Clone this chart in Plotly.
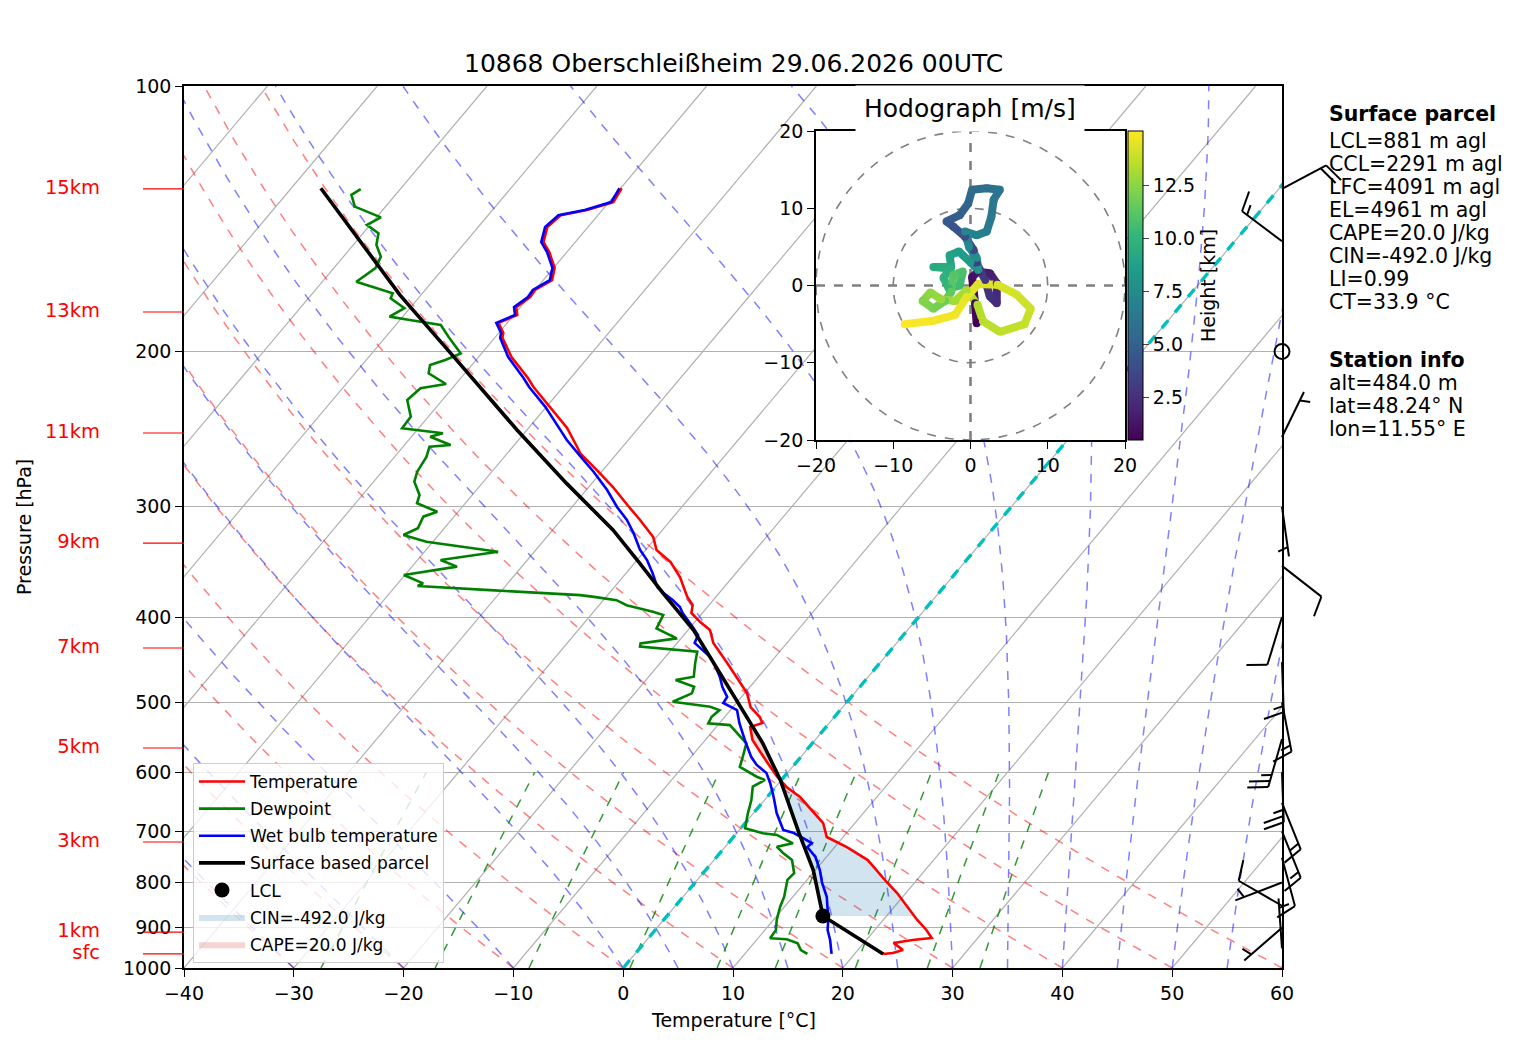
import numpy as np
import plotly.graph_objects as go
from plotly.colors import sample_colorscale

# figure / plot box in pixels
W, H = 1517, 1054
L_PX, R_PX, T_PX, B_PX = 184, 1282, 86, 968
X_MIN, X_MAX = -40, 60
SKEW = 67.6  # degC shift per decade of pressure
PX_DEG = (R_PX - L_PX) / (X_MAX - X_MIN)
PX_DEC = B_PX - T_PX

# ---------------- sounding data ----------------
p_temp = [130.6, 135.4, 138.2, 140.1, 144.5, 150.3, 154.3, 160.8, 166.0, 170.3,
          173.5, 178.1, 181.8, 183.2, 185.6, 190.5, 193.0, 202.9, 214.3, 219.4,
          231.1, 244.2, 257.3, 260.7, 274.6, 284.9, 298.6, 310.5, 324.6, 335.8,
          346.5, 360.3, 379.6, 387.6, 395.8, 405.3, 413.8, 428.1, 451.1, 475.3,
          487.8, 506.0, 519.3, 527.5, 533.1, 551.4, 569.0, 584.0, 607.3, 623.4,
          640.0, 658.6, 684.9, 710.4, 729.2, 754.4, 798.9, 822.2, 852.8, 882.2,
          905.5, 924.7, 929.5, 934.3, 936.6, 954.1, 961.6, 964.0]
t_temp = [-59.9, -59.6, -61.4, -63.4, -63.7, -62.9, -61.6, -59.9, -59.2, -60.0,
          -59.9, -60.4, -59.7, -60.1, -60.8, -59.6, -59.3, -57.0, -53.9, -52.7,
          -49.7, -46.5, -44.0, -43.4, -40.1, -37.8, -35.1, -32.8, -30.3, -29.0,
          -26.8, -24.8, -22.6, -21.5, -21.0, -19.5, -18.0, -16.7, -13.9, -11.2,
          -9.8, -8.4, -6.8, -6.1, -6.9, -5.7, -4.1, -2.7, -0.6, 1.0,
          3.0, 4.7, 7.1, 8.5, 11.1, 14.0, 17.4, 19.2, 21.2, 23.1,
          24.7, 25.8, 24.2, 23.0, 22.7, 24.1, 23.4, 22.6]

p_dew = [130.9, 132.9, 137.0, 140.9, 143.7, 146.9, 151.4, 156.1, 160.9, 166.7,
         171.8, 174.1, 178.6, 182.6, 184.2, 186.6, 192.4, 201.0, 204.5, 207.2,
         211.7, 217.7, 220.1, 227.0, 237.1, 244.4, 247.6, 249.8, 255.3, 256.4,
         263.3, 273.7, 280.9, 290.9, 297.2, 303.9, 307.8, 317.3, 322.9, 328.6,
         337.3, 344.7, 350.7, 358.4, 366.4, 368.9, 372.9, 377.8, 379.5, 382.8,
         387.8, 394.5, 398.0, 412.0, 422.9, 428.5, 432.2, 437.9, 451.4, 467.4,
         471.5, 479.8, 488.2, 499.0, 505.5, 510.0, 519.0, 528.0, 530.4, 541.9,
         556.3, 576.1, 591.4, 606.9, 612.1, 622.8, 645.0, 667.8, 694.5, 703.6,
         706.6, 722.1, 728.6, 741.3, 754.4, 780.7, 794.4, 830.2, 852.2, 882.2,
         905.5, 925.4, 927.8, 937.6, 954.1, 964.0]
t_dew = [-83.6, -84.0, -82.8, -79.6, -80.3, -78.6, -77.9, -76.6, -76.2, -76.9,
         -72.7, -72.5, -70.5, -71.2, -69.1, -65.9, -64.3, -61.9, -62.8, -63.8,
         -63.3, -60.9, -62.9, -63.2, -61.6, -61.5, -57.4, -58.3, -55.8, -57.6,
         -57.1, -56.8, -56.3, -54.8, -54.4, -51.9, -52.8, -52.4, -53.2, -50.6,
         -43.3, -47.9, -45.9, -50.1, -47.7, -48.0, -41.1, -32.5, -31.1, -28.8,
         -27.5, -24.6, -23.4, -23.0, -20.4, -23.3, -23.1, -17.5, -16.8, -15.9,
         -17.3, -15.1, -14.8, -15.9, -12.1, -11.0, -11.2, -11.0, -8.9, -7.6,
         -6.0, -5.3, -4.8, -2.5, -1.5, -2.1, -1.2, -0.5, 0.4, 2.4,
         3.8, 5.9, 4.7, 5.8, 7.1, 8.3, 8.2, 9.2, 9.6, 10.3,
         11.0, 11.1, 12.7, 14.0, 14.8, 15.7]

p_wet = [130.6, 135.4, 138.2, 140.1, 144.5, 150.3, 154.3, 160.8, 166.0, 170.3,
         173.5, 178.1, 181.8, 183.2, 185.6, 190.5, 193.0, 202.9, 214.3, 219.4,
         231.1, 246.7, 252.0, 262.1, 273.9, 287.1, 300.1, 310.5, 321.2, 335.8,
         344.7, 356.6, 369.8, 375.6, 382.6, 389.7, 395.8, 410.6, 419.3, 428.1,
         436.0, 444.0, 459.3, 467.8, 480.2, 492.9, 500.6, 510.0, 527.5, 551.4,
         576.6, 588.6, 601.0, 616.9, 640.0, 667.3, 697.5, 703.0, 721.6, 729.2,
         748.4, 774.3, 801.0, 830.8, 882.2, 905.5, 929.5, 964.0]
t_wet = [-60.1, -59.8, -61.6, -63.6, -63.9, -63.1, -61.8, -60.1, -59.4, -60.2,
         -60.1, -60.6, -59.9, -60.3, -61.0, -59.8, -59.5, -57.3, -54.3, -53.1,
         -50.1, -46.7, -45.6, -43.3, -40.7, -38.1, -35.9, -34.0, -32.4, -30.5,
         -29.1, -27.6, -26.1, -25.1, -23.7, -22.5, -21.8, -19.8, -18.7, -18.4,
         -17.1, -15.9, -14.3, -13.5, -12.5, -11.3, -11.2, -9.4, -8.2, -6.4,
         -4.5, -3.4, -1.9, -0.8, 0.6, 2.1, 4.0, 5.2, 7.6, 7.5,
         9.0, 10.4, 11.6, 13.1, 15.0, 15.7, 16.7, 17.9]

p_parcel = [130.6, 146.3, 172.6, 202.7, 245.5, 282.2, 318.7, 347.7, 375.9, 413.8,
            451.4, 519.0, 556.3, 612.1, 703.6, 774.3, 873.0, 964.0]
t_parcel = [-87.3, -81.0, -71.9, -62.3, -50.9, -42.3, -34.5, -29.5, -25.1, -19.5,
            -15.1, -8.0, -4.5, -0.1, 5.7, 9.8, 14.2, 22.6]

p_lcl, t_lcl = 873.0, 14.2

km_labels = ["15km", "13km", "11km", "9km", "7km", "5km", "3km", "1km", "sfc"]
km_p = [130.8, 180.4, 247.4, 329.8, 433.7, 563.1, 719.7, 910.4, 964.0]

# wind barbs (direction deg, speed)
barb_p = [130.8, 150, 200, 250, 300, 350, 400, 450, 500, 550, 600, 650, 700, 750, 800, 850, 900, 950]
barb_dir = [62, 307, 0, 26, 172, 128, 197, 178, 169, 196, 178, 158, 158, 165, 249, 300, 229, 356]
barb_spd = [20, 15, 0, 5, 5, 10, 10, 15, 15, 25, 25, 15, 15, 10, 5, 10, 5, 5]

# hodograph
hodo_h = [0.48, 0.8, 1.1, 1.4, 1.7, 2.0, 2.3, 2.6, 2.9, 3.2, 3.6, 4.0, 4.3, 4.6, 4.9,
          5.2, 5.5, 5.8, 6.0, 6.2, 6.4, 6.7, 6.9, 7.1, 7.4, 7.7, 8.0, 8.3, 8.6, 8.9,
          9.1, 9.3, 9.6, 9.9, 10.2, 10.5, 10.8, 11.1, 11.4, 11.7, 12.0, 12.3, 12.6,
          12.8, 13.0, 13.2, 13.35, 13.5, 13.65, 13.8, 13.95, 14.1, 14.25, 14.4,
          14.55, 14.7, 14.85, 15.05]
hodo_u = [0.8, 0.6, 0.2, 1.0, 2.5, 3.4, 3.4, 2.5, 1.9, 0.8, 0.4, -0.7, -2.2, -3.1, -1.4,
          -0.3, 0.2, 2.1, 3.8, 3.0, 2.7, 2.1, 0.8, -0.7, -0.2, 0.8, 1.0, 0.0, -1.5, -2.7,
          -2.5, -4.8, -2.6, -3.5, -2.8, -1.4, -1.0, -2.2, -2.5, -3.3, -4.8, -6.2, -5.2,
          -3.8, -2.0, -0.5, 0.9, 1.6, 3.8, 7.0, 7.8, 6.0, 3.5, 1.0,
          -0.5, -2.0, -5.0, -8.5]
hodo_v = [-4.9, -2.3, 1.1, 1.8, 1.6, 0.3, -2.3, -1.4, 0.7, 2.9, 4.6, 6.3, 7.6, 8.3, 9.1,
          10.6, 12.4, 12.6, 12.4, 11.1, 8.9, 7.0, 6.5, 7.0, 5.0, 3.6, 2.0, 3.0, 4.4, 3.9,
          2.4, 2.4, 2.2, 1.0, -0.4, 0.0, 1.8, 1.4, -0.8, -2.0, -3.0, -2.0, -0.9,
          -1.8, -2.0, -0.6, -2.5, -4.6, -6.0, -5.0, -3.0, -1.2, 0.1, 0.2,
          -1.5, -3.8, -4.6, -5.0]

surface_text = ["LCL=881 m agl", "CCL=2291 m agl", "LFC=4091 m agl", "EL=4961 m agl",
                "CAPE=20.0 J/kg", "CIN=-492.0 J/kg", "LI=0.99", "CT=33.9 °C"]
station_text = ["alt=484.0 m", "lat=48.24° N", "lon=11.55° E"]

FONT = "DejaVu Sans"


def skew(t, p):
    return np.asarray(t, float) + SKEW * np.log10(1000.0 / np.asarray(p, float))


def moist_lapse(t0, pres):
    rd, cp, lv, eps = 287.04, 1005.7, 2.501e6, 0.622

    def es(tk):
        return 6.112 * np.exp(17.67 * (tk - 273.15) / (tk - 29.65))

    def dtdp(p, tk):
        rs = eps * es(tk) / (p - es(tk))
        return (rd * tk + lv * rs) / (p * (cp + lv * lv * rs * eps / (rd * tk * tk)))

    tk = t0 + 273.15
    out = [tk]
    for a, b in zip(pres[:-1], pres[1:]):
        h = b - a
        k1 = dtdp(a, tk)
        k2 = dtdp(a + h / 2, tk + h / 2 * k1)
        k3 = dtdp(a + h / 2, tk + h / 2 * k2)
        k4 = dtdp(b, tk + h * k3)
        tk = tk + h / 6 * (k1 + 2 * k2 + 2 * k3 + k4)
        out.append(tk)
    return np.array(out) - 273.15


fig = go.Figure()


def add_lines(xs, ys, color, width, dash=None, axes=("x", "y")):
    fig.add_trace(go.Scatter(x=xs, y=ys, mode="lines", showlegend=False, hoverinfo="skip",
                             line=dict(color=color, width=width, dash=dash),
                             xaxis=axes[0], yaxis=axes[1]))


# isotherms
xs, ys = [], []
for t in range(-120, 61, 10):
    xs += list(skew([t, t], [1000, 100])) + [None]
    ys += [1000, 100, None]
add_lines(xs, ys, "rgb(176,176,176)", 1.2)

# dry adiabats
pp = np.linspace(1000, 100, 60)
xs, ys = [], []
for t0 in range(X_MIN, X_MAX + 1, 10):
    tt = (t0 + 273.15) * (pp / 1000.0) ** 0.2857 - 273.15
    xs += list(skew(tt, pp)) + [None]
    ys += list(pp) + [None]
add_lines(xs, ys, "rgba(255,0,0,0.5)", 1.5, "dash")

# moist adiabats
pm = np.linspace(1000, 100, 181)
xs, ys = [], []
for t0 in list(range(X_MIN, 0, 10)) + list(range(0, X_MAX + 1, 5)):
    tt = moist_lapse(t0, pm)
    xs += list(skew(tt, pm)) + [None]
    ys += list(pm) + [None]
add_lines(xs, ys, "rgba(0,0,255,0.5)", 1.5, "dash")

# mixing ratio lines
pw = np.linspace(1000, 600, 20)
xs, ys = [], []
for w in [0.0004, 0.001, 0.002, 0.004, 0.007, 0.01, 0.016, 0.024, 0.032]:
    e = pw * w / (0.622 + w)
    lg = np.log(e / 6.112)
    td = 243.5 * lg / (17.67 - lg)
    xs += list(skew(td, pw)) + [None]
    ys += list(pw) + [None]
add_lines(xs, ys, "rgba(0,128,0,0.8)", 1.5, "dash")

# 0 degC isotherm
add_lines(skew([0, 0], [1000, 100]), [1000, 100], "rgb(0,191,191)", 3.4, "dash")

# CIN / CAPE shading from parcel vs environment
pg = np.geomspace(p_lcl, 300, 800)
tp_g = np.interp(np.log(pg), np.log(p_parcel), t_parcel)
te_g = np.interp(np.log(pg), np.log(p_temp), t_temp)
diff = tp_g - te_g
i_lfc = int(np.argmax(diff > 0))
i_el = i_lfc + int(np.argmax(diff[i_lfc:] < 0))

cin_p = np.concatenate([pg[:i_lfc + 1], pg[:i_lfc + 1][::-1]])
cin_t = np.concatenate([te_g[:i_lfc + 1], tp_g[:i_lfc + 1][::-1]])
fig.add_trace(go.Scatter(x=skew(cin_t, cin_p), y=cin_p, fill="toself", mode="lines",
                         fillcolor="rgba(31,119,180,0.2)", line=dict(width=0),
                         name="CIN=-492.0 J/kg", legendrank=6, legendgroup="g6",
                         hoverinfo="skip"))
cape_p = np.concatenate([pg[i_lfc:i_el + 1], pg[i_lfc:i_el + 1][::-1]])
cape_t = np.concatenate([tp_g[i_lfc:i_el + 1], te_g[i_lfc:i_el + 1][::-1]])
fig.add_trace(go.Scatter(x=skew(cape_t, cape_p), y=cape_p, fill="toself", mode="lines",
                         fillcolor="rgba(214,39,40,0.2)", line=dict(width=0),
                         name="CAPE=20.0 J/kg", legendrank=7, legendgroup="g7",
                         hoverinfo="skip"))

# profiles
fig.add_trace(go.Scatter(x=skew(t_temp, p_temp), y=p_temp, mode="lines", name="Temperature",
                         line=dict(color="red", width=2.6), legendrank=1, legendgroup="g1"))
fig.add_trace(go.Scatter(x=skew(t_dew, p_dew), y=p_dew, mode="lines", name="Dewpoint",
                         line=dict(color="green", width=2.6), legendrank=2, legendgroup="g2"))
fig.add_trace(go.Scatter(x=skew(t_wet, p_wet), y=p_wet, mode="lines", name="Wet bulb temperature",
                         line=dict(color="blue", width=2.6), legendrank=3, legendgroup="g3"))
fig.add_trace(go.Scatter(x=skew(t_parcel, p_parcel), y=p_parcel, mode="lines",
                         name="Surface based parcel", line=dict(color="black", width=3.6),
                         legendrank=4, legendgroup="g4"))
fig.add_trace(go.Scatter(x=skew([t_lcl], [p_lcl]), y=[p_lcl], mode="markers", name="LCL",
                         marker=dict(color="black", size=15), legendrank=5, legendgroup="g5"))

# ---------------- hodograph ----------------
ring = np.linspace(0, 2 * np.pi, 181)
fig.add_trace(go.Scatter(x=[-20, 20, 20, -20, -20], y=[-20, -20, 20, 20, -20], fill="toself",
                         fillcolor="white", mode="lines", line=dict(width=0), showlegend=False,
                         hoverinfo="skip", xaxis="x2", yaxis="y2"))
for r in (10, 20):
    add_lines(list(r * np.cos(ring)), list(r * np.sin(ring)), "gray", 1.6, "dash", ("x2", "y2"))
add_lines([-20, 20, None, 0, 0], [0, 0, None, -20, 20], "gray", 2.6, "dash", ("x2", "y2"))

hmin, hmax = min(hodo_h), max(hodo_h)
for i in range(len(hodo_h) - 1):
    c = sample_colorscale("Viridis", [((hodo_h[i] + hodo_h[i + 1]) / 2 - hmin) / (hmax - hmin)])[0]
    add_lines([hodo_u[i], hodo_u[i + 1]], [hodo_v[i], hodo_v[i + 1]], c, 8, None, ("x2", "y2"))
fig.add_trace(go.Scatter(
    x=hodo_u, y=hodo_v, mode="markers", showlegend=False, hoverinfo="skip",
    xaxis="x2", yaxis="y2",
    marker=dict(size=8, color=hodo_h, colorscale="Viridis", cmin=hmin, cmax=hmax,
                showscale=True,
                colorbar=dict(x=1128 / W, xanchor="left", xref="paper", xpad=0,
                              y=(H - 440) / H, yanchor="bottom", yref="paper", ypad=0,
                              len=309 / H, lenmode="fraction", thickness=15,
                              outlinecolor="black", outlinewidth=1,
                              ticks="outside", ticklen=6,
                              tickvals=[2.5, 5.0, 7.5, 10.0, 12.5],
                              ticktext=["2.5", "5.0", "7.5", "10.0", "12.5"],
                              tickfont=dict(size=19, family=FONT, color="black"),
                              title=dict(text="Height [km]", side="right",
                                         font=dict(size=19, family=FONT, color="black"))))))

# ---------------- overlay: wind barbs and height labels ----------------
def barb_segments(spd, ddir, length=50):
    fh, fw, sp = 0.4 * length, 0.25 * length, 0.125 * length
    n_full = int(spd // 10)
    half = (spd - 10 * n_full) >= 5
    segs = [[(0, 0), (0, length)]]
    off = length
    for _ in range(n_full):
        segs.append([(0, off), (fh, off + fw / 2)])
        off -= sp
    if half:
        if n_full == 0:
            off -= 1.5 * sp
        segs.append([(0, off), (fh / 2, off + fw / 4)])
    th = np.radians(ddir)
    return [[(x * np.cos(th) + y * np.sin(th), -x * np.sin(th) + y * np.cos(th)) for x, y in s]
            for s in segs]


bx, by, calm_p = [], [], []
for p0, d, s in zip(barb_p, barb_dir, barb_spd):
    if s == 0:
        calm_p.append(p0)
        continue
    for seg in barb_segments(s, d):
        for dx, dy in seg:
            bx.append(X_MAX + dx / PX_DEG)
            by.append(p0 * 10 ** (-dy / PX_DEC))
        bx.append(None)
        by.append(None)
add_lines(bx, by, "black", 2, None, ("x3", "y3"))
fig.add_trace(go.Scatter(x=[X_MAX] * len(calm_p), y=calm_p, mode="markers", showlegend=False,
                         hoverinfo="skip", cliponaxis=False, xaxis="x3", yaxis="y3",
                         marker=dict(symbol="circle-open", size=15, color="black",
                                     line=dict(width=2, color="black"))))

kx, ky = [], []
for p0 in km_p:
    kx += [X_MIN - 41 / PX_DEG, X_MIN, None]
    ky += [p0, p0, None]
add_lines(kx, ky, "red", 1.2, None, ("x3", "y3"))
fig.add_trace(go.Scatter(x=[X_MIN - 84 / PX_DEG] * len(km_p), y=km_p, mode="text", text=km_labels,
                         textposition="middle left", showlegend=False, hoverinfo="skip",
                         cliponaxis=False, textfont=dict(color="red", size=19.5, family=FONT),
                         xaxis="x3", yaxis="y3"))

# ---------------- layout ----------------
axis_common = dict(showline=True, mirror=True, linecolor="black", linewidth=1.6, ticks="outside",
                   ticklen=7, tickwidth=1.4, tickcolor="black", zeroline=False,
                   tickfont=dict(size=19, family=FONT, color="black"))

annotations = [
    dict(text="10868 Oberschleißheim 29.06.2026 00UTC", x=733 / W, y=1 - 64 / H,
         font=dict(size=25, family=FONT, color="black")),
    dict(text="Temperature [°C]", x=733 / W, y=1 - 1020 / H,
         font=dict(size=19, family=FONT, color="black")),
    dict(text="Pressure [hPa]", x=24 / W, y=1 - 527 / H, textangle=-90,
         font=dict(size=19, family=FONT, color="black")),
    dict(text="Hodograph [m/s]", x=970 / W, y=1 - 109 / H, bgcolor="white", borderpad=8,
         font=dict(size=25, family=FONT, color="black")),
    dict(text="<b>Surface parcel</b>", x=1327 / W, y=1 - 114 / H, xanchor="left",
         font=dict(size=20.5, family=FONT, color="black")),
    dict(text="<b>Station info</b>", x=1327 / W, y=1 - 360 / H, xanchor="left",
         font=dict(size=20.5, family=FONT, color="black")),
]
for i, s in enumerate(surface_text):
    annotations.append(dict(text=s, x=1327 / W, y=1 - (141 + 23.0 * i) / H, xanchor="left",
                            font=dict(size=20.5, family=FONT, color="black")))
for i, s in enumerate(station_text):
    annotations.append(dict(text=s, x=1327 / W, y=1 - (383 + 23.0 * i) / H, xanchor="left",
                            font=dict(size=20.5, family=FONT, color="black")))
for a in annotations:
    a.update(xref="paper", yref="paper", showarrow=False)
    a.setdefault("xanchor", "center")
    a.setdefault("yanchor", "middle")

main_ydom = [(H - B_PX) / H, (H - T_PX) / H]
fig.update_layout(
    width=W, height=H,
    margin=dict(l=0, r=0, t=0, b=0, autoexpand=False),
    paper_bgcolor="white", plot_bgcolor="rgba(0,0,0,0)",
    font=dict(family=FONT, color="black"),
    hovermode=False,
    xaxis=dict(domain=[L_PX / W, R_PX / W], range=[X_MIN, X_MAX],
               tickvals=list(range(X_MIN, X_MAX + 1, 10)), showgrid=False, **axis_common),
    yaxis=dict(domain=main_ydom, type="log", range=[3, 2],
               tickvals=list(range(100, 1001, 100)),
               ticktext=[str(v) for v in range(100, 1001, 100)],
               showgrid=True, gridcolor="rgb(176,176,176)", gridwidth=1.4, **axis_common),
    xaxis2=dict(domain=[816 / W, 1125 / W], range=[-20, 20], anchor="y2",
                tickvals=[-20, -10, 0, 10, 20], showgrid=False, **axis_common),
    yaxis2=dict(domain=[(H - 440) / H, (H - 131) / H], range=[-20, 20], anchor="x2",
                tickvals=[-20, -10, 0, 10, 20], showgrid=False, **axis_common),
    xaxis3=dict(domain=[0, 1], range=[X_MIN - L_PX / PX_DEG, X_MAX + (W - R_PX) / PX_DEG],
                anchor="y3", visible=False),
    yaxis3=dict(domain=main_ydom, type="log", range=[3, 2], anchor="x3", visible=False),
    legend=dict(x=193 / W, y=1 - 763 / H, xanchor="left", yanchor="top",
                bgcolor="rgba(255,255,255,0.8)", bordercolor="rgb(204,204,204)", borderwidth=1,
                font=dict(size=17, family=FONT, color="black"), tracegroupgap=2,
                itemwidth=46),
    annotations=annotations,
)

# drop the default page margin so the figure sits at the window origin
fig.write_html("out.html", config={"displayModeBar": False},
               post_script="document.body.style.margin='0px';")
